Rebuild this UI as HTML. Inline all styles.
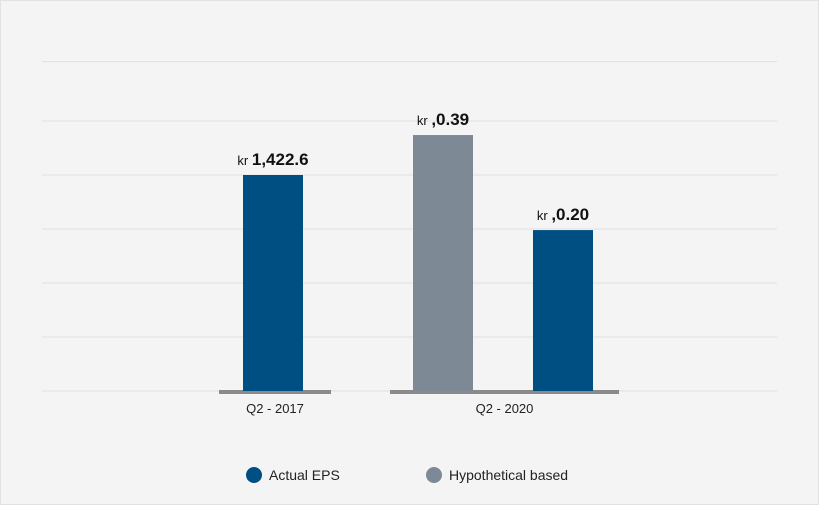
<!DOCTYPE html>
<html><head><meta charset="utf-8"><style>
html,body{margin:0;padding:0;}
body{width:819px;height:505px;background:#f4f4f4;font-family:"Liberation Sans",sans-serif;overflow:hidden;}
.frame{position:absolute;left:0;top:0;width:817px;height:503px;border:1px solid #e2e2e2;}
</style></head><body>
<div class="frame"></div>
<svg id="chart" width="819" height="505" style="position:absolute;left:0;top:0"></svg>
<script>
const categories = ["Q2 - 2017", "Q2 - 2020"];
const actualValues = [4.0, 2.98];
const hypotheticalValues = [null, 4.74];
const actualLabels = ["1,422.6", ",0.20"];
const hypotheticalLabels = [null, ",0.39"];
const gridTicks = [1, 2, 3, 4, 5, 6.1];

const NS = "http://www.w3.org/2000/svg";
const svg = document.getElementById("chart");
const baseY = 391, unit = 54;
const y = v => baseY - v * unit;
function mk(tag, attrs, parent) {
  const e = document.createElementNS(NS, tag);
  for (const k in attrs) e.setAttribute(k, attrs[k]);
  (parent || svg).appendChild(e);
  return e;
}
gridTicks.forEach(t => {
  const l = mk("line", {x1: 42, x2: 777, y1: y(t), y2: y(t), stroke: "#e0e0e0", "stroke-width": 1});
  
  
});
const base = mk("line", {x1: 42, x2: 777, y1: baseY, y2: baseY, stroke: "#e0e0e0", "stroke-width": 1});



const groups = [{x0: 219, x1: 331, bars: [{s: "a", x: 243}]}, {x0: 390, x1: 619, bars: [{s: "h", x: 413}, {s: "a", x: 533}]}];
const barW = 60;
groups.forEach((g, i) => {
  const ax = mk("rect", {x: g.x0, y: baseY - 1, width: g.x1 - g.x0, height: 4, fill: "#8a8a8a"});
  
  
  const cl = mk("text", {x: (g.x0 + g.x1) / 2, y: 413, "text-anchor": "middle", "font-size": 13, fill: "#222"});
  cl.textContent = categories[i];
  
  
  g.bars.forEach(b => {
    const v = b.s === "a" ? actualValues[i] : hypotheticalValues[i];
    const lab = b.s === "a" ? actualLabels[i] : hypotheticalLabels[i];
    const r = mk("rect", {x: b.x, y: y(v), width: barW, height: baseY - y(v), fill: b.s === "a" ? "#004f82" : "#7d8995"});
    
    
    const t = mk("text", {x: b.x + barW / 2, y: y(v) - 10, "text-anchor": "middle", fill: "#111"});
    const k = mk("tspan", {"font-size": 13}, t); k.textContent = "kr ";
    const n = mk("tspan", {"font-size": 17, "font-weight": "bold"}, t); n.textContent = lab;
    
    
  });
});
const legend = [{x: 254, c: "#004f82", t: "Actual EPS", n: "legend-actual-eps"}, {x: 434, c: "#7d8995", t: "Hypothetical based", n: "legend-hypothetical"}];
legend.forEach(L => {
  const c = mk("circle", {cx: L.x, cy: 475, r: 8, fill: L.c});
  
  
  const t = mk("text", {x: L.x + 15, y: 480, "font-size": 14, fill: "#222"});
  t.textContent = L.t;
  
  
});
</script>
</body></html>
